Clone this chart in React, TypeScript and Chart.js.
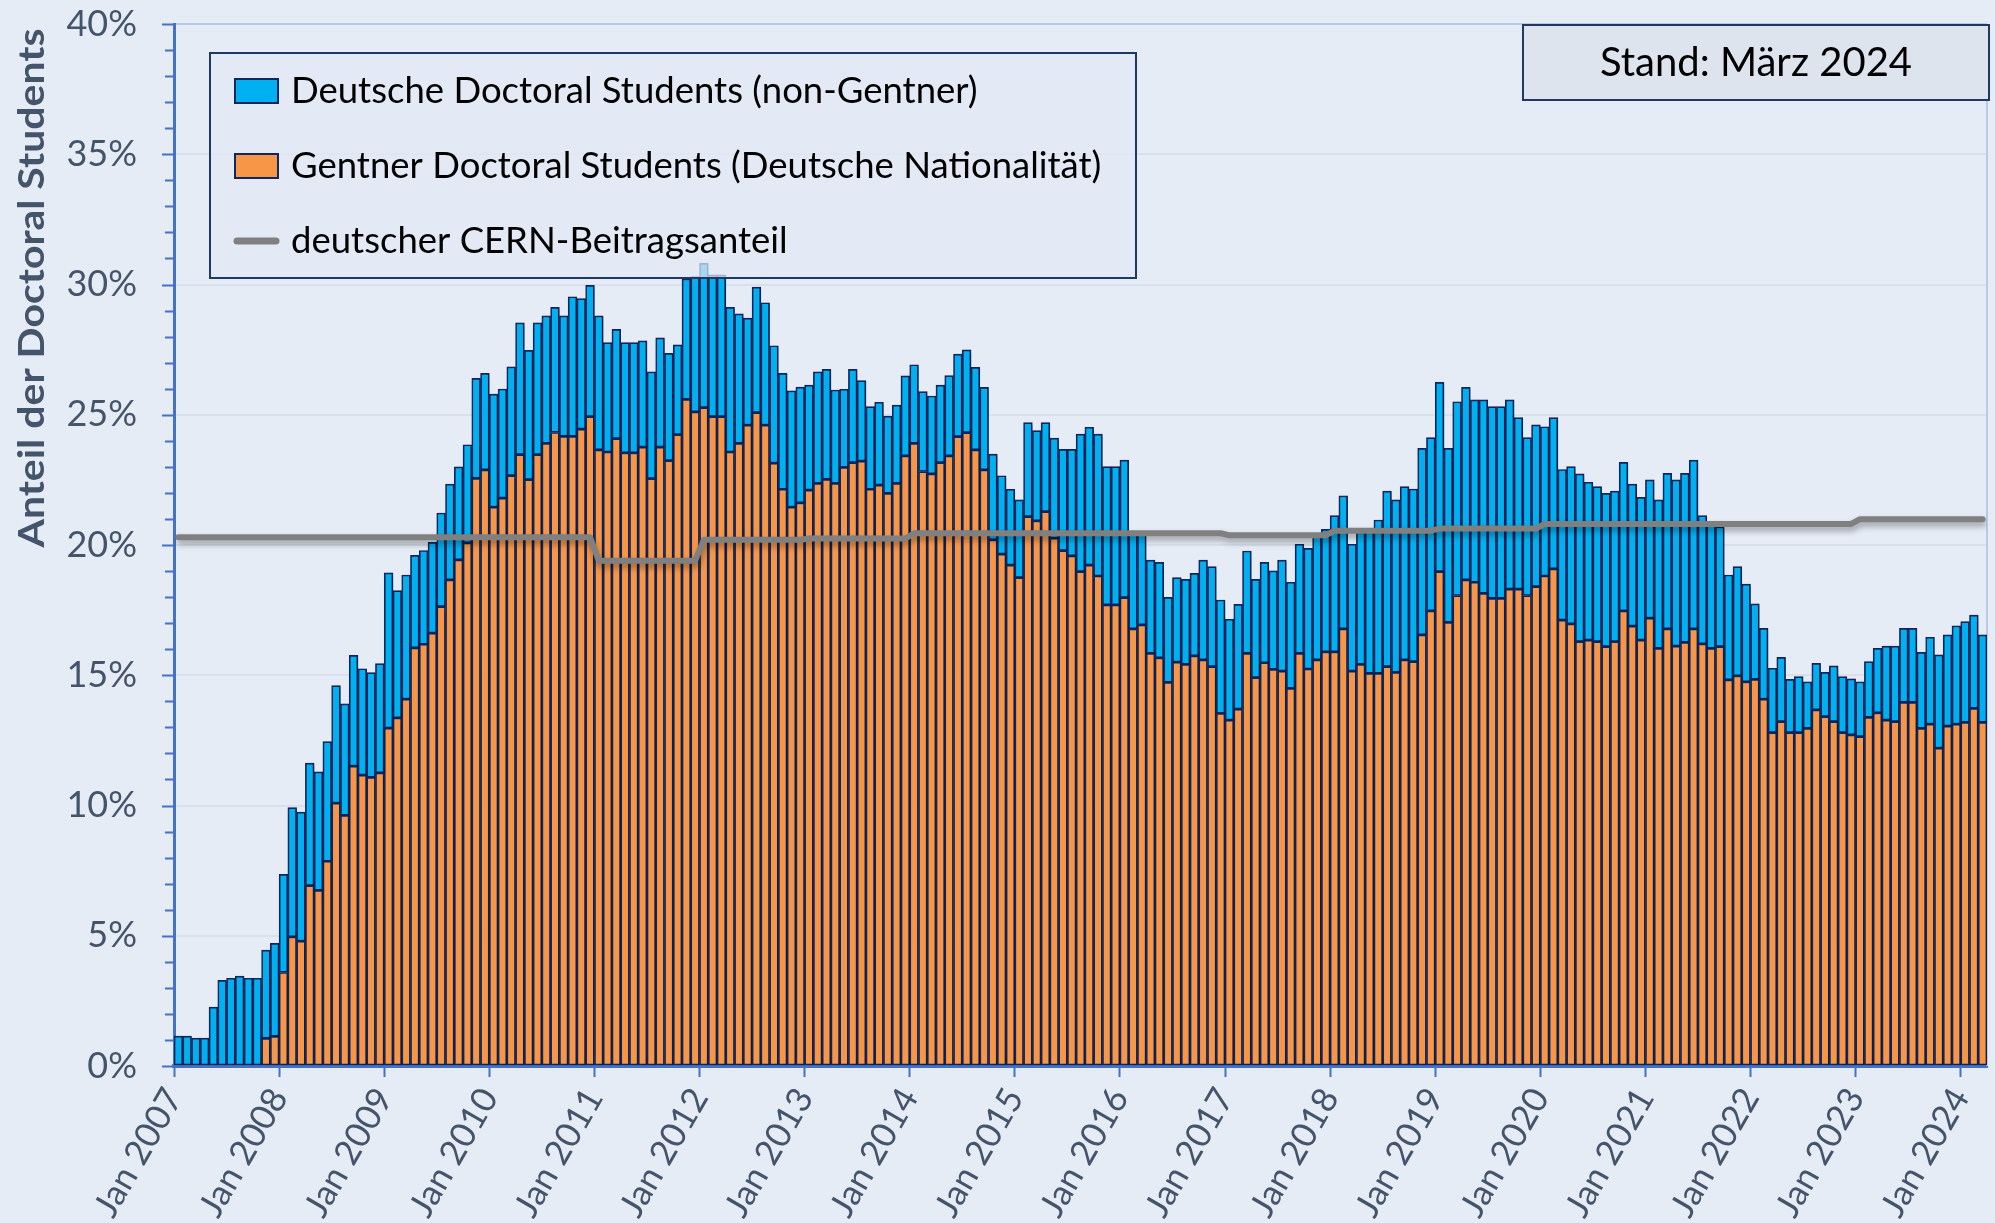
import React, { useEffect, useRef } from 'react';
import { Chart, registerables } from 'chart.js';

Chart.register(...registerables);

// ---------- data (percent) ----------
const firstYear = 2007;

const totalShare = [
  1.15, 1.15, 1.07, 1.07, 2.26, 3.29, 3.37, 3.45, 3.37, 3.37, 4.45, 4.71,
  7.36, 9.92, 9.75, 11.63, 11.29, 12.45, 14.6, 13.9, 15.76, 15.25, 15.1, 15.45,
  18.93, 18.25, 18.85, 19.6, 19.79, 20.1, 21.23, 22.34, 23.0, 23.85, 26.4, 26.59,
  25.79, 25.99, 26.84, 28.53, 27.47, 28.53, 28.8, 29.12, 28.8, 29.53, 29.46, 29.97,
  28.8, 27.77, 28.28, 27.77, 27.77, 27.84, 26.65, 27.95, 27.36, 27.68, 30.22, 30.3,
  30.81, 30.37, 30.37, 29.12, 28.87, 28.71, 29.9, 29.3, 27.65, 26.59, 25.92, 26.06,
  26.14, 26.65, 26.74, 25.95, 25.98, 26.74, 26.31, 25.31, 25.48, 24.95, 25.37, 26.49,
  26.92, 25.89, 25.72, 26.14, 26.5, 27.33, 27.49, 26.82, 26.05, 23.49, 22.66, 22.14,
  21.73, 24.7, 24.39, 24.7, 24.1, 23.67, 23.67, 24.26, 24.52, 24.26, 23.01, 23.01,
  23.26, 20.5, 20.4, 19.42, 19.33, 17.99, 18.75, 18.68, 18.91, 19.42, 19.17, 17.89,
  17.15, 17.72, 19.77, 18.68, 19.33, 19.01, 19.42, 18.57, 20.03, 19.87, 20.35, 20.6,
  21.13, 21.89, 20.03, 20.5, 20.55, 20.96, 22.07, 21.73, 22.24, 22.15, 23.71, 24.12,
  26.24, 23.71, 25.5, 26.05, 25.57, 25.57, 25.31, 25.31, 25.57, 24.89, 24.12, 24.61,
  24.54, 24.89, 22.9, 23.01, 22.73, 22.41, 22.24, 21.98, 22.07, 23.17, 22.34, 21.83,
  22.5, 21.73, 22.75, 22.5, 22.75, 23.26, 21.13, 20.83, 20.7, 18.85, 19.17, 18.5,
  17.74, 16.8, 15.27, 15.69, 14.84, 14.95, 14.75, 15.46, 15.11, 15.36, 14.95, 14.86,
  14.75, 15.52, 16.03, 16.12, 16.12, 16.8, 16.8, 15.88, 16.46, 15.78, 16.55, 16.9,
  17.06, 17.31, 16.55,
];

const gentnerShare = [
  0, 0, 0, 0, 0, 0, 0, 0, 0, 0, 1.06, 1.14,
  3.59, 4.96, 4.79, 6.92, 6.74, 7.86, 10.09, 9.62, 11.51, 11.17, 11.08, 11.25,
  12.97, 13.36, 14.08, 16.05, 16.19, 16.62, 17.63, 18.66, 19.43, 20.08, 22.56, 22.88,
  21.45, 21.8, 22.66, 23.47, 22.51, 23.47, 23.9, 24.32, 24.17, 24.17, 24.45, 24.93,
  23.65, 23.57, 24.08, 23.54, 23.54, 23.76, 22.55, 23.76, 23.24, 24.24, 25.59, 25.11,
  25.27, 24.93, 24.93, 23.57, 23.9, 24.6, 25.08, 24.6, 23.14, 22.14, 21.45, 21.62,
  22.11, 22.37, 22.52, 22.37, 22.98, 23.16, 23.22, 22.14, 22.3, 21.98, 22.37, 23.42,
  23.9, 22.82, 22.73, 23.16, 23.42, 24.16, 24.31, 23.65, 22.88, 20.2, 19.65, 19.23,
  18.75, 21.09, 20.93, 21.28, 20.26, 19.78, 19.58, 18.98, 19.23, 18.81, 17.7, 17.7,
  17.98, 16.78, 16.93, 15.84, 15.67, 14.73, 15.5, 15.42, 15.74, 15.59, 15.33, 13.54,
  13.28, 13.7, 15.84, 14.91, 15.48, 15.23, 15.16, 14.5, 15.84, 15.24, 15.59, 15.9,
  15.9, 16.78, 15.16, 15.42, 15.07, 15.07, 15.33, 15.11, 15.59, 15.52, 16.55, 17.47,
  18.98, 17.03, 18.06, 18.66, 18.57, 18.14, 17.95, 17.95, 18.31, 18.31, 18.06, 18.4,
  18.81, 19.08, 17.12, 16.97, 16.29, 16.35, 16.29, 16.1, 16.29, 17.47, 16.89, 16.35,
  17.19, 16.03, 16.78, 16.12, 16.26, 16.78, 16.2, 16.03, 16.1, 14.82, 14.98, 14.75,
  14.84, 14.08, 12.8, 13.22, 12.8, 12.8, 12.96, 13.67, 13.41, 13.22, 12.8, 12.71,
  12.64, 13.38, 13.56, 13.28, 13.22, 13.96, 13.96, 12.96, 13.12, 12.2, 13.05, 13.12,
  13.19, 13.73, 13.19,
];

// German CERN contribution share, one value per year 2007..2024
const cernShareByYear = [
  20.3, 20.3, 20.3, 20.3, 19.4, 20.2, 20.25, 20.45, 20.45, 20.45,
  20.37, 20.55, 20.63, 20.81, 20.81, 20.81, 20.99, 20.99,
];

const seriesLabels = [
  'Deutsche Doctoral Students (non-Gentner)',
  'Gentner Doctoral Students (Deutsche Nationalität)',
  'deutscher CERN-Beitragsanteil',
];
const yAxisTitle = 'Anteil der Doctoral Students';
const standLabel = 'Stand: März 2024';
const yTickStep = 5;
const yMax = 40;

// ---------- styling ----------
const FONT = 'Lato, "Open Sans", sans-serif';
const BG = '#E6ECF6';
const BLUE = '#00B0F0';
const ORANGE = '#F79646';
const NAVY = '#10265E';
const AXIS = '#4472C4';
const GRAY = '#808080';
const LABEL = '#44546A';
const PLOT_TOP = 24;

const decorPlugin = {
  id: 'decor',
  afterLayout(chart: any) {
    const ca = chart.chartArea;
    const ys = chart.scales.y;
    if (Math.abs(ca.top - PLOT_TOP) > 0.5) {
      ys.top = PLOT_TOP;
      ys.height = ys.bottom - PLOT_TOP;
      ys.configure();
      ca.top = PLOT_TOP;
      ca.height = ca.bottom - PLOT_TOP;
    }
  },
  beforeDraw(chart: any) {
    const { ctx, width, height } = chart;
    ctx.save();
    ctx.fillStyle = BG;
    ctx.fillRect(0, 0, width, height);
    ctx.restore();
  },
  beforeDatasetsDraw(chart: any) {
    const { ctx, chartArea } = chart;
    ctx.save();
    ctx.strokeStyle = '#B9CAE8';
    ctx.lineWidth = 2;
    ctx.beginPath();
    ctx.moveTo(chartArea.right, chartArea.top);
    ctx.lineTo(chartArea.right, chartArea.bottom);
    ctx.stroke();
    ctx.restore();
  },
  beforeDatasetDraw(chart: any, args: any) {
    const { ctx } = chart;
    ctx.save();
    const type = chart.data.datasets[args.index].type;
    if (type === 'line') {
      ctx.shadowColor = 'rgba(0,0,0,0.35)';
      ctx.shadowBlur = 6;
      ctx.shadowOffsetX = 1;
      ctx.shadowOffsetY = 4;
    } else {
      ctx.shadowColor = 'rgba(0,0,0,0.28)';
      ctx.shadowBlur = 5;
      ctx.shadowOffsetX = 3;
      ctx.shadowOffsetY = 2;
    }
  },
  afterDatasetDraw(chart: any) {
    chart.ctx.restore();
  },
  afterDraw(chart: any) {
    const { ctx, chartArea, scales } = chart;
    const y = scales.y;
    ctx.save();
    // y-axis tick marks (minor every 1 %, major every 5 %)
    ctx.strokeStyle = AXIS;
    ctx.lineWidth = 2;
    for (let v = 0; v <= yMax; v += 1) {
      const py = Math.round(y.getPixelForValue(v)) + 0.5;
      const len = v % yTickStep === 0 ? 12 : 9;
      ctx.beginPath();
      ctx.moveTo(chartArea.left - len, py);
      ctx.lineTo(chartArea.left, py);
      ctx.stroke();
    }

    // y-axis title (condensed bold, stretched to the reference length)
    ctx.save();
    ctx.translate(32, 288);
    ctx.rotate(-Math.PI / 2);
    ctx.fillStyle = LABEL;
    ctx.font = `bold 37px ${FONT}`;
    const tw = ctx.measureText(yAxisTitle).width;
    ctx.scale(519 / tw, 1);
    ctx.textAlign = 'center';
    ctx.textBaseline = 'middle';
    ctx.fillText(yAxisTitle, 0, 0);
    ctx.restore();

    // legend box
    const lx = 210, ly = 53, lw = 926, lh = 225;
    ctx.fillStyle = 'rgba(226,233,244,0.72)';
    ctx.fillRect(lx, ly, lw, lh);
    ctx.strokeStyle = '#1F3864';
    ctx.lineWidth = 2;
    ctx.strokeRect(lx, ly, lw, lh);
    const rows = [91, 166, 241];
    const colors = [BLUE, ORANGE];
    ctx.font = `36.5px ${FONT}`;
    ctx.textBaseline = 'middle';
    ctx.textAlign = 'left';
    rows.forEach((ry, i) => {
      if (i < 2) {
        ctx.fillStyle = colors[i];
        ctx.fillRect(235, ry - 12, 43, 24);
        ctx.strokeStyle = NAVY;
        ctx.lineWidth = 2;
        ctx.strokeRect(235, ry - 12, 43, 24);
      } else {
        ctx.strokeStyle = GRAY;
        ctx.lineWidth = 7;
        ctx.lineCap = 'round';
        ctx.beginPath();
        ctx.moveTo(237, ry);
        ctx.lineTo(276, ry);
        ctx.stroke();
      }
      ctx.fillStyle = '#000000';
      ctx.fillText(seriesLabels[i], 291, ry);
    });

    // "Stand" box
    const sx = 1523, sy = 25, sw = 466, sh = 75;
    ctx.fillStyle = '#DDE4EE';
    ctx.fillRect(sx, sy, sw, sh);
    ctx.strokeStyle = '#1F3864';
    ctx.lineWidth = 2;
    ctx.strokeRect(sx, sy, sw, sh);
    ctx.fillStyle = '#000000';
    ctx.font = `40px ${FONT}`;
    ctx.textAlign = 'center';
    ctx.textBaseline = 'middle';
    ctx.fillText(standLabel, sx + sw / 2, sy + sh / 2 + 1);
    ctx.restore();
  },
};

export default function App() {
  const canvasRef = useRef<HTMLCanvasElement | null>(null);

  useEffect(() => {
    document.body.style.margin = '0';
    document.body.style.background = BG;
    const canvas = canvasRef.current;
    if (!canvas) return;

    const n = totalShare.length;
    const gentnerData = gentnerShare.map((v, i) => ({ x: i + 0.5, y: v }));
    const nonGentnerData = totalShare.map((v, i) => ({ x: i + 0.5, y: [gentnerShare[i], v] }));
    const cernData = totalShare.map((_, i) => ({
      x: i + 0.5,
      y: cernShareByYear[Math.floor(i / 12)],
    }));

    const chart = new Chart(canvas, {
      type: 'bar',
      data: {
        datasets: [
          {
            type: 'line',
            label: seriesLabels[2],
            data: cernData as any,
            borderColor: GRAY,
            borderWidth: 6,
            pointRadius: 0,
            borderCapStyle: 'round',
            borderJoinStyle: 'round',
            tension: 0,
            order: 0,
          } as any,
          {
            type: 'bar',
            label: seriesLabels[0],
            data: nonGentnerData as any,
            backgroundColor: BLUE,
            borderColor: NAVY,
            borderWidth: 1.7,
            borderSkipped: false,
            grouped: false,
            barPercentage: 1,
            categoryPercentage: 1,
            order: 1,
          } as any,
          {
            type: 'bar',
            label: seriesLabels[1],
            data: gentnerData as any,
            backgroundColor: ORANGE,
            borderColor: NAVY,
            borderWidth: 1.7,
            borderSkipped: false,
            grouped: false,
            barPercentage: 1,
            categoryPercentage: 1,
            order: 2,
          } as any,
        ],
      },
      options: {
        responsive: false,
        animation: false,
        devicePixelRatio: 1,
        layout: { autoPadding: false, padding: { left: 0, top: PLOT_TOP, right: 8, bottom: 0 } },
        plugins: {
          legend: { display: false },
          tooltip: { enabled: false },
          title: { display: false },
        },
        scales: {
          x: {
            type: 'linear',
            min: 0,
            max: n,
            offset: false,
            afterFit: (scale: any) => {
              scale.height = 1223 - 1066;
              scale.paddingLeft = 0;
              scale.paddingRight = 0;
              scale.paddingTop = 0;
              scale.paddingBottom = 0;
            },
            border: { display: true, color: AXIS, width: 4 },
            grid: {
              display: true,
              offset: false,
              drawOnChartArea: false,
              drawTicks: true,
              tickLength: 11,
              tickWidth: 2,
              tickColor: AXIS,
              color: AXIS,
            },
            ticks: {
              stepSize: 12,
              autoSkip: false,
              includeBounds: false,
              maxRotation: 60,
              minRotation: 60,
              padding: 4,
              color: LABEL,
              font: { family: FONT, size: 35 },
              callback: (v: any) => 'Jan ' + (firstYear + Number(v) / 12),
            },
          },
          y: {
            type: 'linear',
            min: 0,
            max: yMax,
            afterFit: (scale: any) => {
              scale.width = 174;
              scale.paddingTop = 0;
              scale.paddingBottom = 0;
            },
            border: { display: true, color: AXIS, width: 3 },
            grid: {
              display: true,
              drawTicks: false,
              color: (c: any) => (c.tick && c.tick.value === yMax ? '#B9CAE8' : '#D9E0EB'),
              lineWidth: 2,
            },
            ticks: {
              stepSize: yTickStep,
              padding: 37,
              color: LABEL,
              font: { family: FONT, size: 36 },
              callback: (v: any) => v + '%',
            },
          },
        },
      },
      plugins: [decorPlugin],
    } as any);

    return () => chart.destroy();
  }, []);

  return (
    <div style={{ width: 1995, height: 1223, background: BG }}>
      <canvas ref={canvasRef} width={1995} height={1223} style={{ display: 'block' }} />
    </div>
  );
}
